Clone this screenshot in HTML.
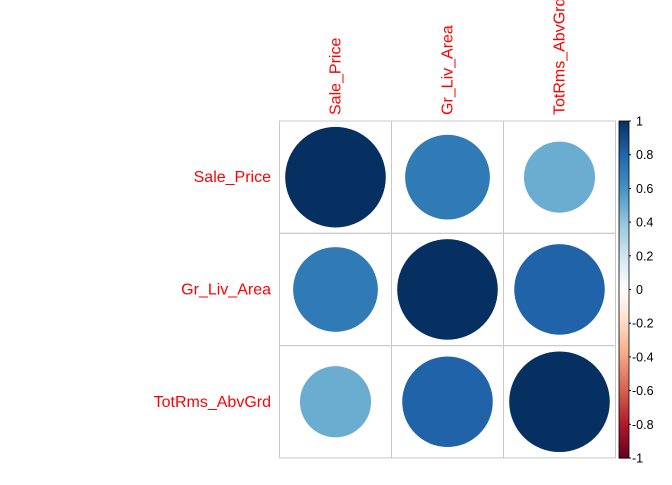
<!DOCTYPE html>
<html><head><meta charset="utf-8"><style>
body{margin:0;background:#fff;font-family:"Liberation Sans",Arial,sans-serif}
</style></head><body>
<svg id="chart" width="672" height="480" xmlns="http://www.w3.org/2000/svg"></svg>
<script>
const variables=["Sale_Price","Gr_Liv_Area","TotRms_AbvGrd"];
const corrRow0=[1,0.71,0.5];
const corrRow1=[0.71,1,0.81];
const corrRow2=[0.5,0.81,1];
const colorbarTicks=[1,0.8,0.6,0.4,0.2,0,-0.2,-0.4,-0.6,-0.8,-1];
const rows=[corrRow0,corrRow1,corrRow2];
const stops=["#67001F","#B2182B","#D6604D","#F4A582","#FDDBC7","#FFFFFF","#D1E5F0","#92C5DE","#4393C3","#2166AC","#053061"];
function hex(h){return [1,3,5].map(i=>parseInt(h.substr(i,2),16));}
function col(v){const t=(v+1)/2*10;let i=Math.min(9,Math.floor(t));const f=t-i;const a=hex(stops[i]),b=hex(stops[i+1]);
return "rgb("+a.map((x,k)=>Math.round(x+(b[k]-x)*f)).join(",")+")";}
const svg=document.getElementById('chart');const NS="http://www.w3.org/2000/svg";
function el(t,a,p){const e=document.createElementNS(NS,t);for(const k in a)e.setAttribute(k,a[k]);(p||svg).appendChild(e);return e;}
const gx=279.5,gy=121,cw=112,ch=112.3,n=variables.length;
const xs=i=>gx+cw*i, ys=j=>gy+ch*j;
for(let j=0;j<n;j++)for(let i=0;i<n;i++){
 const v=rows[j][i];
 const r=el('rect',{x:xs(i),y:ys(j),width:cw,height:ch,fill:'none',stroke:'#c8c8c8','stroke-width':1});
 
 
 const c=el('circle',{cx:xs(i)+cw/2,cy:ys(j)+ch/2,r:50.3*Math.sqrt(Math.abs(v)),fill:col(v)});
 
 
}
variables.forEach((name,k)=>{
 const t=el('text',{x:xs(k)+cw/2+5,y:115,fill:'#FF0000','font-size':16,transform:`rotate(-90 ${xs(k)+cw/2+5} 115)`});
 t.textContent=name;
 
 
 const l=el('text',{x:271,y:ys(k)+ch/2+5,fill:'#FF0000','font-size':16,'text-anchor':'end'});
 l.textContent=name;
 
 
});
const by0=121,by1=458,bx=619,bw=10;
const g=el('g',{});


for(let k=0;k<200;k++){const v=1-2*(k+0.5)/200;el('rect',{x:bx,y:by0+(by1-by0)*k/200,width:bw,height:(by1-by0)/200+0.6,fill:col(v)},g);}
el('rect',{x:bx,y:by0,width:bw,height:by1-by0,fill:'none',stroke:'#000','stroke-width':0.8},g);
const cy=v=>by0+(1-v)/2*(by1-by0);
colorbarTicks.forEach(v=>{
 el('line',{x1:bx+bw,x2:bx+bw+2,y1:cy(v),y2:cy(v),stroke:'#000'},g);
 const t=el('text',{x:v<0?632:636,y:cy(v)+4.5,'font-size':12.5,fill:'#000'},g);
 t.textContent=String(v);
 
 
});
</script>
</body></html>
